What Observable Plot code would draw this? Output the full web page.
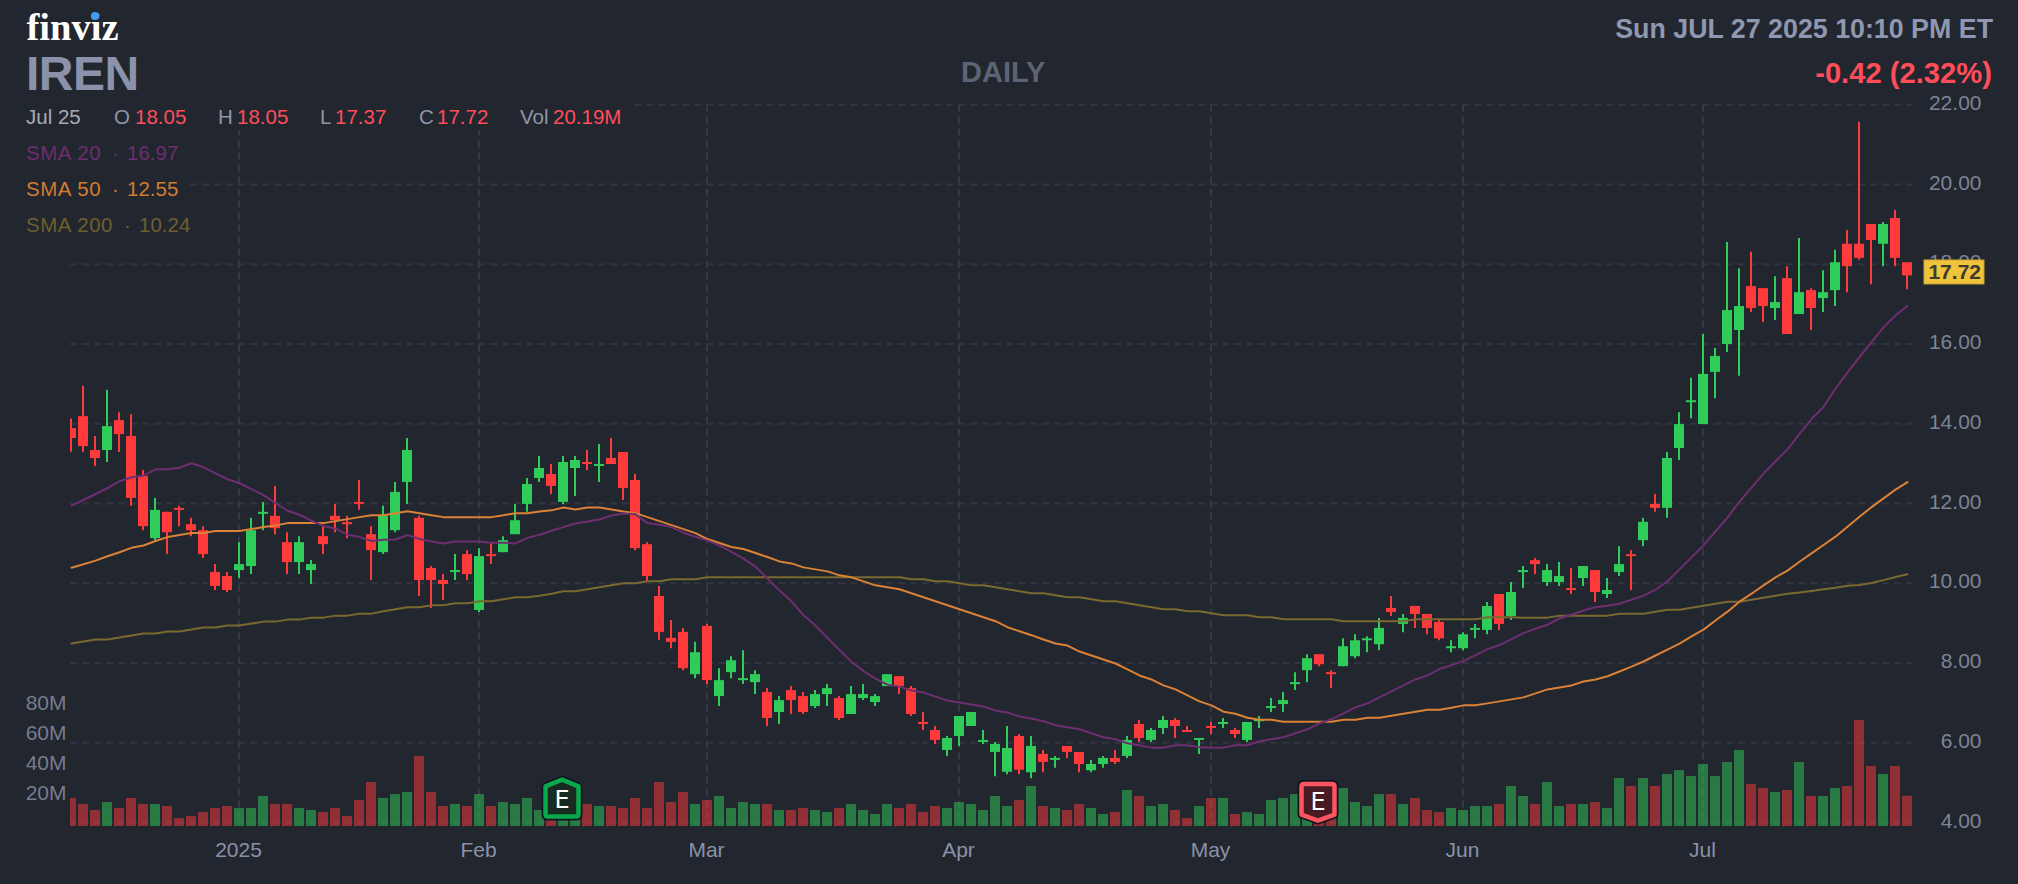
<!DOCTYPE html>
<html>
<head>
<meta charset="utf-8">
<style>
  html,body{margin:0;padding:0;background:#22262f;overflow:hidden}
  #chart{position:relative;width:2018px;height:884px;background:#22262f;font-family:"Liberation Sans",Arial,sans-serif}
  #chart svg{position:absolute;left:0;top:0;background:transparent}
  .t{position:absolute;white-space:nowrap;line-height:0}
  .box{position:absolute;background:#22262f}
</style>
<script src="https://cdn.jsdelivr.net/npm/d3@7"></script>
<script src="https://cdn.jsdelivr.net/npm/@observablehq/plot@0.6"></script>
</head>
<body>
<div id="chart"></div>
<script>
const opens=[13.89,14.19,13.34,13.34,14.09,13.69,12.69,11.13,11.79,11.89,11.48,11.33,10.28,10.18,10.33,10.43,11.74,11.69,11.03,10.53,10.33,11.18,11.69,11.53,12.04,11.23,10.78,11.33,12.54,11.64,10.38,10.08,10.28,10.73,9.33,10.73,10.78,11.23,11.99,12.64,12.74,12.04,12.89,13.04,12.94,13.14,13.29,12.59,10.98,9.68,8.63,8.78,7.72,8.93,7.17,7.77,7.57,7.52,7.27,6.77,7.32,7.17,6.92,7.22,7.12,6.72,7.12,7.02,7.42,7.67,7.37,6.52,6.32,5.82,6.17,6.42,6.02,5.77,5.27,6.17,5.26,5.72,5.57,5.92,5.77,5.31,5.47,5.62,5.67,6.47,6.07,6.37,6.57,6.32,6.07,6.42,6.47,6.32,6.07,6.54,6.87,6.97,7.47,7.82,8.22,7.77,7.92,8.17,8.57,8.47,9.38,8.98,9.43,9.23,9.03,8.37,8.37,8.83,8.83,9.73,9.18,10.28,10.58,10.03,10.03,9.88,10.13,10.33,9.73,10.28,10.73,11.08,11.99,11.89,13.39,14.54,13.99,15.30,16.00,16.35,17.45,17.40,16.90,17.65,16.75,17.35,17.15,17.35,18.51,18.51,19.01,18.51,19.16,18.05];
const highs=[14.13,14.95,13.69,14.85,14.29,14.24,12.84,12.14,11.79,11.94,11.64,11.43,10.48,10.28,11.03,11.64,12.04,12.44,11.28,11.18,10.58,11.43,11.99,11.69,12.59,11.43,11.94,12.54,13.64,11.69,10.43,10.23,10.73,10.83,10.88,11.03,11.18,11.99,12.64,13.19,12.99,13.19,13.19,13.34,13.49,13.64,13.29,12.74,11.03,9.93,9.08,8.88,8.53,8.98,7.87,8.17,8.32,7.82,7.37,7.17,7.42,7.27,7.32,7.47,7.17,7.42,7.47,7.22,7.72,7.67,7.42,6.77,6.42,6.17,6.67,6.77,6.32,6.02,6.42,6.22,6.17,5.82,5.67,5.92,5.77,5.57,5.67,5.82,6.17,6.57,6.37,6.67,6.62,6.42,6.12,6.52,6.62,6.37,6.52,6.67,7.12,7.27,7.77,8.22,8.22,7.82,8.62,8.72,8.67,9.13,9.68,9.23,9.43,9.23,9.08,8.57,8.77,8.98,9.53,9.73,10.03,10.43,10.63,10.48,10.53,10.38,10.43,10.33,10.13,10.93,10.83,11.64,12.24,13.29,14.29,15.15,16.25,15.90,18.56,17.90,18.31,17.40,17.70,17.95,18.66,17.40,17.85,18.36,18.86,21.57,19.01,19.06,19.36,18.05];
const lows=[13.30,13.30,12.94,13.04,13.29,11.94,11.33,11.08,10.73,11.43,11.18,10.63,9.83,9.78,10.13,10.23,11.33,11.23,10.23,10.23,9.98,10.73,11.28,11.13,11.84,10.08,10.73,11.28,11.99,9.68,9.38,9.58,10.08,10.08,9.28,10.48,10.78,11.23,11.79,12.54,12.24,11.99,12.19,12.84,12.54,12.99,12.09,10.83,10.03,8.58,8.37,7.82,7.62,7.47,6.92,7.62,7.47,7.22,6.42,6.47,6.72,6.72,6.87,6.92,6.57,6.72,7.07,6.92,7.42,7.22,6.67,6.32,5.97,5.67,5.92,6.42,5.97,5.16,5.21,5.21,5.11,5.26,5.37,5.62,5.26,5.26,5.37,5.47,5.62,6.02,6.02,6.22,6.12,6.27,5.72,6.22,6.37,6.12,6.02,6.37,6.77,6.77,7.32,7.52,7.92,7.37,7.92,8.12,8.27,8.32,9.18,8.77,8.88,8.72,8.57,8.27,8.32,8.62,8.72,8.83,9.08,9.88,10.23,9.93,9.93,9.73,9.93,9.53,9.63,10.18,9.83,10.93,11.79,11.64,13.09,14.14,13.99,14.64,15.80,15.20,16.80,16.55,16.60,16.25,16.75,16.35,16.80,16.95,17.30,18.11,17.50,17.95,17.95,17.37];
const closes=[13.64,13.44,13.14,13.94,13.74,12.14,11.43,11.84,11.28,11.84,11.33,10.73,9.93,9.83,10.48,11.33,11.79,11.38,10.53,11.03,10.48,10.98,11.58,11.48,11.99,10.83,11.69,12.29,13.34,10.08,10.08,9.98,10.33,10.23,10.68,10.68,11.08,11.58,12.49,12.89,12.44,13.04,13.09,12.99,12.99,12.99,12.39,10.88,10.18,8.78,8.53,7.87,8.27,7.57,7.57,8.07,7.62,7.72,6.62,7.07,7.07,6.77,7.22,7.37,6.62,7.22,7.22,7.17,7.72,7.42,6.72,6.47,6.07,6.12,6.67,6.77,6.07,5.97,5.87,5.32,5.92,5.52,5.62,5.77,5.47,5.47,5.62,5.52,6.07,6.12,6.32,6.57,6.42,6.27,6.12,6.37,6.52,6.22,6.52,6.59,6.92,7.07,7.52,8.12,7.97,7.72,8.42,8.57,8.62,8.88,9.28,9.13,9.23,8.88,8.62,8.42,8.72,8.88,9.43,8.98,9.78,10.33,10.48,10.33,10.18,9.83,10.43,9.78,9.83,10.48,10.68,11.54,11.89,13.14,13.99,14.59,15.25,15.70,16.85,16.95,16.90,16.95,17.05,16.25,17.30,16.90,17.30,18.05,17.95,18.16,18.61,19.01,18.16,17.72];
const volumes=[18.7,14.7,10.7,16,12,18.7,14.7,14.7,13.3,5.3,6.7,9.3,12,13.3,12,12,20,14.7,14.7,12,10.7,9.3,12,6.7,17.3,29.3,18.7,21.3,22.7,46.7,22.7,13.3,14.7,13.3,21.3,13.3,16,14.7,18.7,10.7,8.4,10.7,8.4,14.7,13.3,13.3,12,18.7,12,29.3,16,22.7,14.7,17.3,20,12,16,14.7,14.7,10.7,10.7,12,10.7,9.3,12,14.7,10.7,8,14.7,12,14.7,9.3,13.3,12,16,14.7,10.7,20,13.3,17.3,26.7,13.3,12,10.7,14.7,12,8,9.3,24,20,13.3,14.7,10.7,5.3,13.3,18.7,18.7,8,9.3,8,17.3,18.7,21.3,14.7,9.3,6.2,25.3,16,13.3,21.3,21.3,14.7,18.7,10.7,9.3,12,10.7,13.3,13.3,14.7,26.7,20,14.7,29.3,13.3,14.7,14.7,16,12,32,26.7,32,26.7,34.7,37.3,33.3,41.3,33.3,42.7,50.7,28,25.3,22.7,24,42.7,20,20,25.3,26.7,70.7,40,34.7,40,20.19];
const sma20=[11.96,12.10,12.25,12.40,12.57,12.67,12.71,12.87,12.87,12.91,13.02,12.92,12.77,12.62,12.52,12.37,12.22,12.02,11.83,11.73,11.58,11.45,11.38,11.23,11.17,11.07,11.10,11.11,11.22,11.12,11.06,11.01,11.06,11.06,11.06,11.03,11.03,11.01,11.15,11.23,11.33,11.42,11.51,11.56,11.61,11.71,11.76,11.74,11.52,11.48,11.42,11.28,11.18,11.08,10.96,10.80,10.63,10.43,10.13,9.83,9.56,9.21,8.95,8.64,8.34,8.04,7.81,7.62,7.47,7.42,7.32,7.27,7.17,7.07,7.02,6.97,6.92,6.82,6.77,6.67,6.62,6.55,6.45,6.40,6.35,6.25,6.15,6.10,6.00,5.95,5.89,5.89,5.95,5.95,5.90,5.89,5.89,5.95,5.95,6.05,6.10,6.15,6.25,6.35,6.50,6.60,6.75,6.90,7.00,7.15,7.30,7.45,7.60,7.70,7.86,7.96,8.06,8.21,8.36,8.46,8.61,8.76,8.87,8.97,9.13,9.23,9.33,9.41,9.45,9.50,9.60,9.70,9.85,10.06,10.36,10.66,10.96,11.31,11.66,12.06,12.41,12.76,13.07,13.37,13.76,14.13,14.43,14.89,15.30,15.68,16.06,16.43,16.73,16.97];
const sma50=[10.40,10.49,10.58,10.69,10.79,10.90,10.96,11.07,11.17,11.22,11.27,11.27,11.32,11.32,11.32,11.37,11.42,11.46,11.52,11.52,11.52,11.52,11.57,11.62,11.67,11.72,11.72,11.77,11.82,11.77,11.72,11.67,11.67,11.67,11.67,11.67,11.72,11.77,11.77,11.81,11.84,11.91,11.86,11.91,11.91,11.86,11.81,11.77,11.67,11.57,11.47,11.37,11.27,11.12,11.02,10.92,10.87,10.77,10.67,10.56,10.51,10.41,10.36,10.31,10.21,10.16,10.06,9.96,9.91,9.86,9.76,9.66,9.56,9.46,9.36,9.26,9.16,9.06,8.91,8.81,8.71,8.60,8.50,8.45,8.30,8.20,8.10,8.00,7.85,7.70,7.60,7.45,7.35,7.20,7.05,6.95,6.79,6.74,6.64,6.59,6.59,6.54,6.54,6.54,6.54,6.54,6.59,6.59,6.64,6.64,6.69,6.74,6.79,6.84,6.84,6.89,6.95,6.95,7.00,7.05,7.10,7.15,7.25,7.35,7.40,7.45,7.55,7.60,7.68,7.80,7.92,8.05,8.20,8.35,8.50,8.68,8.85,9.08,9.30,9.55,9.75,9.96,10.16,10.33,10.55,10.76,10.97,11.18,11.43,11.68,11.92,12.14,12.36,12.55];
const sma200=[8.50,8.55,8.60,8.60,8.65,8.70,8.75,8.75,8.80,8.80,8.85,8.90,8.90,8.95,8.95,9.00,9.05,9.05,9.10,9.10,9.15,9.15,9.20,9.20,9.25,9.25,9.31,9.36,9.41,9.41,9.46,9.46,9.51,9.51,9.56,9.56,9.61,9.66,9.66,9.70,9.75,9.81,9.81,9.86,9.91,9.96,10.01,10.01,10.06,10.06,10.11,10.11,10.11,10.16,10.16,10.16,10.16,10.16,10.16,10.16,10.16,10.16,10.16,10.16,10.16,10.16,10.16,10.16,10.16,10.16,10.11,10.11,10.06,10.06,10.01,9.96,9.96,9.91,9.86,9.81,9.76,9.76,9.71,9.66,9.66,9.61,9.56,9.56,9.51,9.46,9.41,9.36,9.36,9.31,9.31,9.26,9.21,9.21,9.21,9.16,9.16,9.11,9.11,9.11,9.11,9.11,9.06,9.06,9.06,9.06,9.06,9.06,9.11,9.11,9.11,9.11,9.11,9.11,9.16,9.16,9.16,9.15,9.15,9.15,9.20,9.20,9.20,9.20,9.20,9.25,9.25,9.25,9.30,9.35,9.35,9.40,9.45,9.50,9.55,9.55,9.60,9.65,9.70,9.75,9.78,9.82,9.86,9.90,9.95,9.97,10.02,10.09,10.17,10.24];
const monthIndex=[14,34,53,74,95,116,136];
const monthLabels=["2025","Feb","Mar","Apr","May","Jun","Jul"];
const priceTicks=[4,6,8,10,12,14,16,18,20,22];
const volumeTicks=[20,40,60,80];
const earnings=[{i:41,kind:"up"},{i:104,kind:"down"}];
const lastClose=17.72;
const ohlcRow=[["Jul 25",26,"#a7abb6"],["O",114,"#8f96a8"],["18.05",135,"#ff4d5a"],["H",218,"#8f96a8"],["18.05",237,"#ff4d5a"],["L",320,"#8f96a8"],["17.37",335,"#ff4d5a"],["C",419,"#8f96a8"],["17.72",437,"#ff4d5a"],["Vol",520,"#8f96a8"],["20.19M",553,"#ff4d5a"]];
const smaRows=[[["SMA 20",26],["·",112],["16.97",127],"#6d2e70",160],[["SMA 50",26],["·",112],["12.55",127],"#d27c30",196],[["SMA 200",26],["·",124],["10.24",139],"#6e5f30",232]];

const bg="#22262f",gridC="#343946",gridH="#303541",up="#30cc5a",down="#ff3a3a";
const W=2018,H=884,ML=70,MR=106;
const n=closes.length;
const idx=d3.range(n);
const xScale={type:"linear",domain:[-1/12,(W-MR-71)/12],range:[ML,W-MR]};
const color=i=>closes[i]>opens[i]?up:down;
const font='"Liberation Sans",Arial,sans-serif';
const chart=document.getElementById("chart");

function badge(index,{y},values,dims){
  const g=d3.create("svg:g");
  const c=y(lastClose)-3.4;
  g.append("rect").attr("x",dims.width-94).attr("y",c-12).attr("width",60).attr("height",24).attr("fill","#f0c33c").attr("stroke","#c9a332").attr("stroke-width",1);
  g.append("text").attr("x",dims.width-37).attr("y",c+7.5).attr("text-anchor","end").attr("font-size",21).attr("font-family",font).attr("fill","#3d3b2c").attr("font-weight","bold").text(lastClose.toFixed(2));
  return g.node();
}
function marker(index,{x},values,dims){
  const root=d3.create("svg:g");
  for(const e of earnings){
    const cx=x(e.i)-1;
    const g=root.append("g").attr("transform",`translate(${cx},0)`);
    const upK=e.kind==="up";
    const p=upK
      ?"M0,779.6 L16.5,786.4 L16.5,814 Q16.5,816.6 14,816.6 L-14,816.6 Q-16.5,816.6 -16.5,814 L-16.5,786.4 Z"
      :"M-14,784 L14,784 Q16.5,784 16.5,786.5 L16.5,814.6 L0,820.6 L-16.5,814.6 L-16.5,786.5 Q-16.5,784 -14,784 Z";
    g.append("path").attr("d",p).attr("fill","none").attr("stroke","#11161c").attr("stroke-width",8).attr("stroke-linejoin","round");
    g.append("path").attr("d",p).attr("fill",upK?"#192b20":"#4a1a22").attr("stroke",upK?"#08a84c":"#ff5563").attr("stroke-width",4.5).attr("stroke-linejoin","round");
    g.append("text").attr("x",0).attr("y",upK?808:810).attr("text-anchor","middle").attr("font-size",24).attr("font-family","DejaVu Sans").attr("fill","#fff").text("E");
  }
  return root.node();
}

const pricePlot=Plot.plot({
  width:W,height:H,marginLeft:ML,marginRight:MR,marginTop:105,marginBottom:61.5,
  style:{background:"transparent",fontFamily:font},
  x:{...xScale,axis:null},
  y:{type:"linear",domain:[4,22],range:[822.5,104.7],axis:null},
  marks:[
    Plot.ruleY(priceTicks,{stroke:gridH,strokeWidth:2,strokeDasharray:"7 5",dy:-0.5}),
    Plot.ruleX(monthIndex,{x:d=>d,y1:22,y2:4.14,stroke:gridC,strokeWidth:2,strokeDasharray:"7 5",dx:-0.5}),
    Plot.axisY(priceTicks,{anchor:"right",tickSize:0,tickPadding:69,textAnchor:"end",fontSize:21,fill:"#7d8496",dy:-2,tickFormat:d=>d.toFixed(2),label:null}),
    Plot.axisX(monthIndex,{anchor:"bottom",tickSize:0,tickPadding:19,fontSize:21,fill:"#8a92a8",dx:-1,tickFormat:d=>monthLabels[monthIndex.indexOf(d)],label:null}),
    Plot.ruleX(idx,{x:d=>d,y1:i=>lows[i],y2:i=>highs[i],stroke:color,strokeWidth:2,dx:-0.5,clip:true}),
    Plot.ruleX(idx,{x:d=>d,y1:i=>opens[i],y2:i=>closes[i],stroke:color,strokeWidth:10,dx:-0.5,clip:true}),
    Plot.lineY(sma200,{x:(d,i)=>i,y:d=>d,stroke:"#7a6a30",strokeWidth:2,clip:true}),
    Plot.lineY(sma50,{x:(d,i)=>i,y:d=>d,stroke:"#db8236",strokeWidth:2,clip:true}),
    Plot.lineY(sma20,{x:(d,i)=>i,y:d=>d,stroke:"#6f2e70",strokeWidth:2,clip:true}),
    badge
  ]
});
chart.appendChild(pricePlot);

const volumePlot=Plot.plot({
  width:W,height:H,marginLeft:ML,marginRight:MR,marginTop:676,marginBottom:58,
  style:{background:"transparent",fontFamily:font},
  x:{...xScale,axis:null},
  y:{type:"linear",domain:[0,100],range:[826,676],axis:null},
  marks:[
    Plot.axisY(volumeTicks,{anchor:"left",tickSize:0,tickPadding:4,fontSize:21,fill:"#767c8e",dy:-3.5,tickFormat:d=>d+"M",label:null}),
    Plot.ruleX(idx,{x:d=>d,y1:0,y2:i=>volumes[i],stroke:color,strokeWidth:10,strokeOpacity:0.5,dx:-0.5,clip:true}),
    marker
  ]
});
chart.appendChild(volumePlot);

function text(s,x,base,size,col,o={}){
  const d=document.createElement("div");
  d.className="t";d.textContent=s;
  d.style.top=(base-0.3465*size)+"px";
  if(o.right!=null)d.style.right=(W-o.right)+"px"; else d.style.left=x+"px";
  d.style.fontSize=size+"px";d.style.color=col;
  if(o.bold)d.style.fontWeight="bold";
  if(o.family)d.style.fontFamily=o.family;
  if(o.ls)d.style.letterSpacing=o.ls;
  chart.appendChild(d);
  return d;
}
function box(x,y,w,h){
  const d=document.createElement("div");
  d.className="box";
  Object.assign(d.style,{left:x+"px",top:y+"px",width:w+"px",height:h+"px"});
  chart.appendChild(d);
}
box(20,98,614,32);
box(20,170,170,32);

text("finviz",26.5,40,38.5,"#ffffff",{bold:true,family:'"Liberation Serif",serif'});
const dot=document.createElement("div");
Object.assign(dot.style,{position:"absolute",left:"91px",top:"12px",width:"7.5px",height:"7.5px",borderRadius:"50%",background:"#3d9df5"});
chart.appendChild(dot);
text("IREN",26,91,48,"#8a93ab",{bold:true,ls:"-0.5px"});
text("DAILY",961,82,29,"#5c6373",{bold:true});
text("Sun JUL 27 2025 10:10 PM ET",0,38.3,26.8,"#8f98b0",{bold:true,right:1993});
text("-0.42 (2.32%)",0,83,29.2,"#ff4d5a",{bold:true,right:1992});
for(const [s,x,c] of ohlcRow) text(s,x,124,20.5,c);
for(const [a,b,c,col,base] of smaRows){
  text(a[0],a[1],base,20.5,col,{ls:"0.55px"});
  for(const [s,x] of [b,c]) text(s,x,base,20.5,col);
}
</script>
</body>
</html>
